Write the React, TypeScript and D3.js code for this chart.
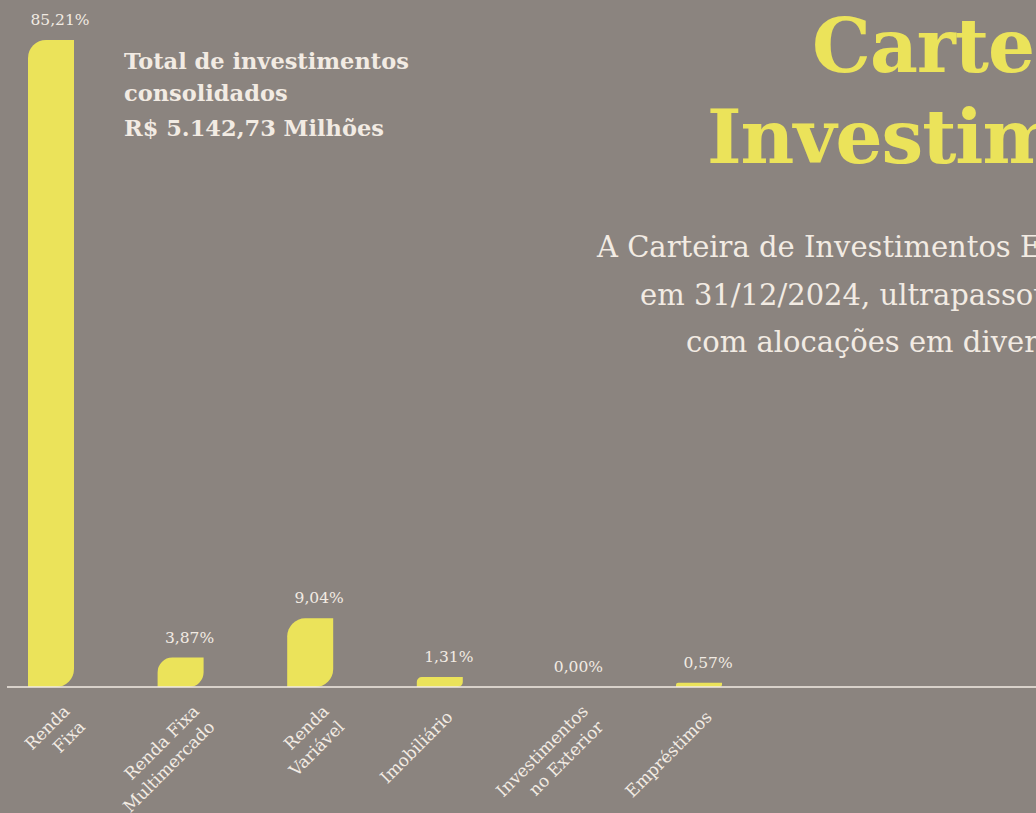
import React, { useRef, useEffect } from 'react';
import * as d3 from 'd3';

// categories and their share of the portfolio (%)
const categories = [
  ['Renda', 'Fixa'],
  ['Renda Fixa', 'Multimercado'],
  ['Renda', 'Variável'],
  ['Imobiliário'],
  ['Investimentos', 'no Exterior'],
  ['Empréstimos'],
];
const shares = [85.21, 3.87, 9.04, 1.31, 0.0, 0.57];
const shareLabels = ['85,21%', '3,87%', '9,04%', '1,31%', '0,00%', '0,57%'];

const titleLines = ['Carteira de', 'Investimentos'];
const totalLines = ['Total de investimentos', 'consolidados', 'R$ 5.142,73 Milhões'];
const introLines = [
  'A Carteira de Investimentos Entidade,',
  'em 31/12/2024, ultrapassou R$ 5 bilhões,',
  'com alocações em diversos segmentos.',
];

const BG = '#8b847f';
const YELLOW = '#ebe35a';
const LIGHT = '#f2ebe3';
const SERIF = '"DejaVu Serif", serif';

// bar with rounded top-left and bottom-right corners
function leaf(x: number, y: number, w: number, h: number) {
  const r = Math.min(18, h / 2, w / 2);
  return `M${x + r},${y}H${x + w}V${y + h - r}A${r},${r} 0 0 1 ${x + w - r},${y + h}H${x}V${y + r}A${r},${r} 0 0 1 ${x + r},${y}Z`;
}

function Chart() {
  const ref = useRef<SVGSVGElement>(null);

  useEffect(() => {
    const svg = d3.select(ref.current);
    svg.selectAll('*').remove();

    const width = 1036;
    const height = 813;
    const baseY = 687;
    const barW = 46;

    svg.append('rect').attr('width', width).attr('height', height).attr('fill', BG);

    const idx = categories.map((_, i) => i);
    const x = d3.scalePoint<number>().domain(idx).range([51, 699]);
    const y = d3.scaleLinear().domain([0, 85.21]).range([baseY, 40]);

    // bars
    svg
      .append('g')
      .selectAll('path')
      .data(idx.filter((i) => shares[i] > 0))
      .join('path')
      .attr('d', (i) => {
        const top = y(shares[i]);
        return leaf(x(i)! - barW / 2, top, barW, baseY - top);
      })
      .attr('fill', YELLOW);

    // baseline
    svg
      .append('line')
      .attr('x1', 7)
      .attr('x2', width)
      .attr('y1', baseY)
      .attr('y2', baseY)
      .attr('stroke', LIGHT)
      .attr('stroke-width', 1.5);

    // value labels
    svg
      .append('g')
      .selectAll('text')
      .data(idx)
      .join('text')
      .attr('x', (i) => x(i)! + 9)
      .attr('y', (i) => y(shares[i]) - 15)
      .attr('text-anchor', 'middle')
      .attr('font-family', SERIF)
      .attr('font-size', 15.5)
      .attr('fill', LIGHT)
      .text((i) => shareLabels[i]);

    // category labels
    const cat = svg
      .append('g')
      .selectAll('text')
      .data(idx)
      .join('text')
      .attr('transform', (i) => `translate(${x(i)! + 14},718) rotate(-45)`)
      .attr('text-anchor', 'end')
      .attr('font-family', SERIF)
      .attr('font-size', 17)
      .attr('fill', LIGHT);
    cat
      .selectAll('tspan')
      .data((i) => categories[i].map((t) => ({ t, n: categories[i].length })))
      .join('tspan')
      .attr('x', (d) => (d.n > 1 ? 8 : 0))
      .attr('dy', (_, j) => (j === 0 ? 0 : 22))
      .text((d) => d.t);

    // total block
    svg
      .append('g')
      .selectAll('text')
      .data(totalLines)
      .join('text')
      .attr('x', 124)
      .attr('y', (_, j) => [69, 101, 136][j])
      .attr('font-family', SERIF)
      .attr('font-weight', 'bold')
      .attr('font-size', 22.5)
      .attr('fill', LIGHT)
      .text((d) => d);

    // title
    svg
      .append('g')
      .selectAll('text')
      .data(titleLines)
      .join('text')
      .attr('x', (_, j) => [812, 707][j])
      .attr('y', (_, j) => [72, 163][j])
      .attr('font-family', SERIF)
      .attr('font-weight', 'bold')
      .attr('font-size', 74)
      .attr('letter-spacing', -1)
      .attr('fill', YELLOW)
      .text((d) => d);

    // intro paragraph
    svg
      .append('g')
      .selectAll('text')
      .data(introLines)
      .join('text')
      .attr('x', (_, j) => [597, 640, 686][j])
      .attr('y', (_, j) => [257, 305, 352][j])
      .attr('font-family', SERIF)
      .attr('font-size', 29)
      .attr('fill', LIGHT)
      .text((d) => d);
  }, []);

  return (
    <svg
      ref={ref}
      width={1036}
      height={813}
      style={{ position: 'absolute', left: 0, top: 0, display: 'block' }}
    ></svg>
  );
}

export default function App() {
  return <Chart />;
}
